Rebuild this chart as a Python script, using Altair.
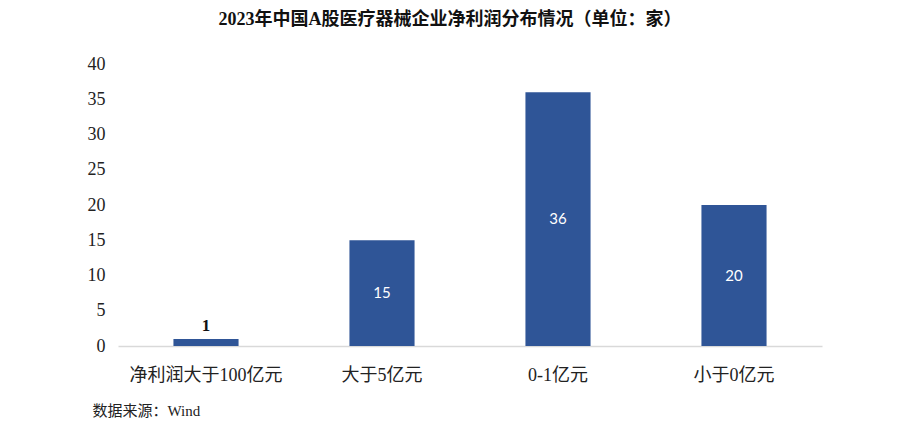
import altair as alt
import pandas as pd

categories = ["净利润大于100亿元", "大于5亿元", "0-1亿元", "小于0亿元"]
values = [1, 15, 36, 20]
y_ticks = [0, 5, 10, 15, 20, 25, 30, 35, 40]

title_text = "2023年中国A股医疗器械企业净利润分布情况（单位：家）"
source_text = "数据来源：Wind"

df = pd.DataFrame({"cat": categories, "val": values})

SERIF = "Liberation Serif, Noto Sans CJK SC"
BAR = "#2F5597"

x_axis = alt.Axis(
    title=source_text, titleFont=SERIF, titleFontSize=15, titleFontWeight="normal",
    titleColor="#222222", titleAnchor="start", titleAlign="left", titleBaseline="middle",
    titleX=-26, titleY=64,
    labelAngle=0, labelFont=SERIF, labelFontSize=18, labelColor="#222222",
    labelPadding=29, ticks=False, tickSize=0, domainColor="#d9d9d9", domainWidth=1.5,
    labelBaseline="middle",
)
y_axis = alt.Axis(
    title=None, values=y_ticks, grid=False, domain=False, labelOverlap=False,
    ticks=False, tickSize=0, labelPadding=13, labelFont="Liberation Serif",
    labelFontSize=18, labelColor="#222222",
)
x_scale = alt.Scale(paddingInner=0.63, paddingOuter=0.315)
y_scale = alt.Scale(domain=[0, 40], nice=False)

bars = alt.Chart(df).mark_bar(color=BAR).encode(
    x=alt.X("cat:N", sort=categories, scale=x_scale, axis=x_axis),
    y=alt.Y("val:Q", scale=y_scale, axis=y_axis),
)

inside = alt.Chart(df).transform_filter("datum.val >= 5").transform_calculate(
    mid="datum.val / 2"
).mark_text(color="white", font="Lato", fontSize=15, baseline="middle").encode(
    x=alt.X("cat:N", sort=categories, scale=x_scale, axis=x_axis),
    y=alt.Y("mid:Q", scale=y_scale, axis=y_axis),
    text="val:Q",
)

above = alt.Chart(df).transform_filter("datum.val < 5").mark_text(
    color="#111111", font="Liberation Serif", fontSize=17, fontWeight="bold",
    baseline="bottom", dy=-4,
).encode(
    x=alt.X("cat:N", sort=categories, scale=x_scale, axis=x_axis),
    y=alt.Y("val:Q", scale=y_scale, axis=y_axis),
    text="val:Q",
)

chart = alt.layer(bars, inside, above).properties(
    width=704, height=282,
    padding={"left": 110, "top": 56, "right": 71, "bottom": 72},
    autosize=alt.AutoSizeParams(type="none"),
    title=alt.TitleParams(
        title_text, font=SERIF, fontSize=18, fontWeight="bold", color="#111111",
        anchor="middle", frame="group", dx=-20, offset=26,
    ),
).configure_view(stroke=None)

chart.save("out.html", embed_options={"renderer": "svg", "actions": False})
